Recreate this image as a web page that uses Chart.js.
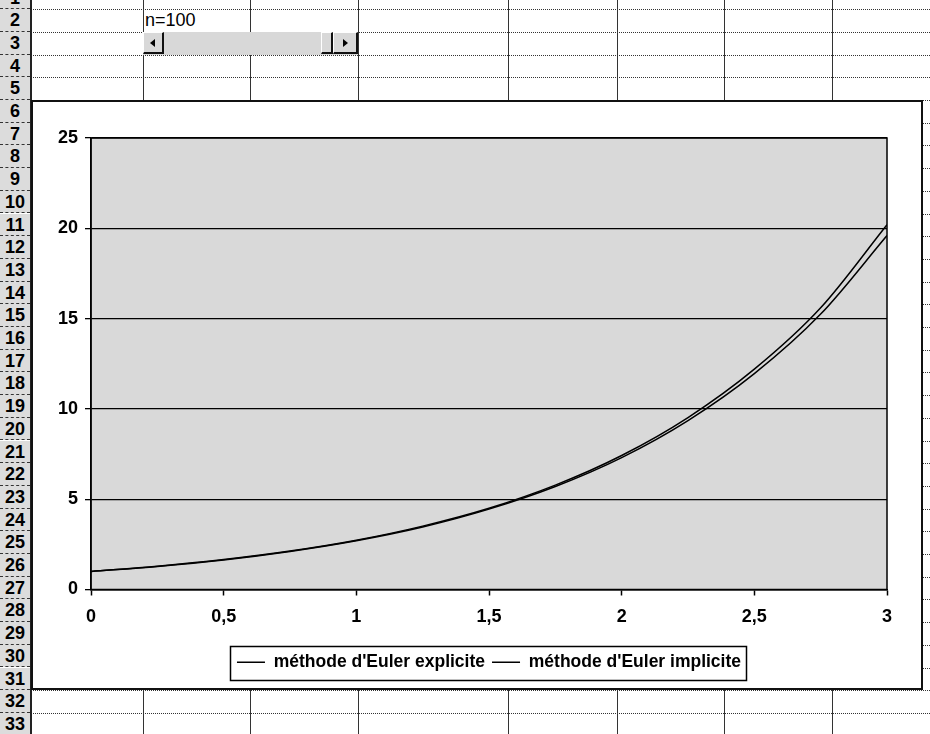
<!DOCTYPE html>
<html lang="fr">
<head>
<meta charset="UTF-8">
<title>Méthode d'Euler</title>
<script src="https://cdn.jsdelivr.net/npm/chart.js@4.4.0/dist/chart.umd.min.js"></script>
<style>
    body {
        margin: 0;
        width: 930px;
        height: 734px;
        overflow: hidden;
        position: relative;
        background: #fff;
        font-family: 'Liberation Sans', Arial, sans-serif;
    }
    .rowhead {
        position: absolute;
        left: 0;
        width: 30px;
        background: #dcdcdc;
        border-bottom: 1px dashed #333;
        box-sizing: border-box;
        text-align: center;
        font: bold 18px 'Liberation Sans Narrow', 'Arial Narrow', 'Liberation Sans', sans-serif;
        color: #000;
    }
    .hline {
        position: absolute;
        left: 31px;
        right: 0;
        border-top: 1px dotted #333;
    }
    .vline {
        position: absolute;
        top: 0;
        height: 734px;
        width: 1px;
        background: #333;
    }
    #headBorder {
        position: absolute;
        left: 30px;
        top: 0;
        width: 2px;
        height: 734px;
        background: #222;
    }
    #nLabel {
        position: absolute;
        left: 145px;
        top: 10px;
        font-size: 18px;
        line-height: 20px;
    }
    .sb {
        position: absolute;
        box-sizing: border-box;
        background: #d8d8d8;
    }
    .btn {
        border-top: 1px solid #fff;
        border-left: 1px solid #fff;
        border-right: 2px solid #111;
        border-bottom: 2px solid #111;
    }
    .arrow {
        position: absolute;
        top: 6px;
        width: 0;
        height: 0;
        border-top: 4px solid transparent;
        border-bottom: 4px solid transparent;
    }
    #chartBox {
        position: absolute;
        left: 31px;
        top: 100px;
        width: 892px;
        height: 590px;
        background: #fff;
        border: 2px solid #111;
        box-sizing: border-box;
    }
    #chart {
        position: absolute;
        left: 32px;
        top: 101px;
    }
</style>
</head>
<body>
<div id="sheet"></div>
<div id="headBorder"></div>
<div id="nLabel">n=100</div>
<div class="sb" style="left:143px; top:32px; width:215px; height:23px;"></div>
<div class="sb btn" style="left:143px; top:32px; width:21px; height:22px;"><div class="arrow" style="left:6px; border-right:5px solid #000;"></div></div>
<div class="sb btn" style="left:321px; top:32px; width:12px; height:22px;"></div>
<div class="sb btn" style="left:333px; top:32px; width:25px; height:22px;"><div class="arrow" style="left:9px; border-left:5px solid #000;"></div></div>
<div id="chartBox"></div>
<canvas id="chart" width="890" height="588"></canvas>

<script>
    // données (n=100)
    const xValues = [0, 0.25, 0.5, 0.75, 1, 1.25, 1.5, 1.75, 2, 2.25, 2.5, 2.75, 3];
    const explicitValues = [1, 1.28, 1.64, 2.11, 2.70, 3.46, 4.45, 5.70, 7.30, 9.35, 11.95, 15.25, 19.6];
    const implicitValues = [1, 1.29, 1.66, 2.13, 2.73, 3.51, 4.50, 5.78, 7.42, 9.52, 12.2, 15.6, 20.2];
    const seriesNames = ["méthode d'Euler explicite", "méthode d'Euler implicite"];
    const xTicks = [0, 0.5, 1, 1.5, 2, 2.5, 3];
    const xTickLabels = ['0', '0,5', '1', '1,5', '2', '2,5', '3'];
    const yTicks = [0, 5, 10, 15, 20, 25];

    // feuille de calcul autour du graphique
    const sheet = document.getElementById('sheet');
    const rowH = 22.7;
    const rowTop = r => 9.2 + (r - 2) * rowH;
    for (let r = 1; r <= 33; r++) {
        const h = document.createElement('div');
        h.className = 'rowhead';
        h.style.top = rowTop(r) + 'px';
        h.style.height = rowH + 'px';
        h.style.lineHeight = rowH + 'px';
        h.textContent = r;
        sheet.appendChild(h);
        const l = document.createElement('div');
        l.className = 'hline';
        l.style.top = rowTop(r) + 'px';
        sheet.appendChild(l);
    }
    [143, 250, 358, 508, 617, 724, 832].forEach(x => {
        const v = document.createElement('div');
        v.className = 'vline';
        v.style.left = x + 'px';
        sheet.appendChild(v);
    });

    const frames = {
        id: 'frames',
        beforeDraw(chart) {
            const {ctx, chartArea: a} = chart;
            ctx.save();
            ctx.fillStyle = '#d9d9d9';
            ctx.fillRect(a.left, a.top, a.width, a.height);
            ctx.restore();
        },
        afterDraw(chart) {
            const {ctx, chartArea: a, legend} = chart;
            ctx.save();
            ctx.strokeStyle = '#000';
            ctx.lineWidth = 1.5;
            ctx.strokeRect(a.left, a.top, a.width, a.height);
            const boxes = legend.legendHitBoxes;
            const l = Math.min(...boxes.map(b => b.left)) - 7;
            const r = Math.max(...boxes.map(b => b.left + b.width)) + 5;
            const t = boxes[0].top - 8;
            ctx.strokeRect(Math.round(l) + 0.5, Math.round(t) + 0.5, Math.round(r - l), 34);
            ctx.restore();
        }
    };

    const tickFont = {family: "'Liberation Sans', Arial, sans-serif", size: 18, weight: 'bold'};

    new Chart(document.getElementById('chart'), {
        type: 'line',
        data: {
            labels: xValues,
            datasets: [
                {
                    label: seriesNames[0],
                    data: xValues.map((x, i) => ({x: x, y: explicitValues[i]})),
                    borderColor: '#000',
                    backgroundColor: '#000',
                    borderWidth: 1.5
                },
                {
                    label: seriesNames[1],
                    data: xValues.map((x, i) => ({x: x, y: implicitValues[i]})),
                    borderColor: '#000',
                    backgroundColor: '#000',
                    borderWidth: 1.5
                }
            ]
        },
        options: {
            responsive: false,
            animation: false,
            devicePixelRatio: 1,
            layout: {padding: {top: 37, right: 35, bottom: 8, left: 0}},
            elements: {
                point: {radius: 0},
                line: {cubicInterpolationMode: 'monotone'}
            },
            scales: {
                x: {
                    type: 'linear',
                    min: 0,
                    max: 3,
                    afterBuildTicks: s => { s.ticks = xTicks.map(v => ({value: v})); },
                    afterFit: s => { s.height = 57; },
                    ticks: {
                        color: '#000',
                        font: tickFont,
                        padding: 11,
                        maxRotation: 0,
                        callback: (v, i) => xTickLabels[i]
                    },
                    grid: {drawOnChartArea: false, drawTicks: true, tickLength: 6, tickColor: '#000', tickWidth: 1.5},
                    border: {display: true, color: '#000', width: 1.5}
                },
                y: {
                    min: 0,
                    max: 25,
                    afterBuildTicks: s => { s.ticks = yTicks.map(v => ({value: v})); },
                    afterFit: s => { s.width = 59; },
                    ticks: {color: '#000', font: tickFont, padding: 7},
                    grid: {color: '#000', lineWidth: 1.3, tickLength: 6, tickColor: '#000'},
                    border: {display: true, color: '#000', width: 1.5}
                }
            },
            plugins: {
                legend: {
                    position: 'bottom',
                    fullSize: false,
                    labels: {
                        color: '#000',
                        font: {family: "'Liberation Sans', Arial, sans-serif", size: 17.5, weight: 'bold'},
                        usePointStyle: true,
                        pointStyle: 'line',
                        pointStyleWidth: 28,
                        padding: 7
                    }
                },
                tooltip: {enabled: false}
            }
        },
        plugins: [frames]
    });
</script>
</body>
</html>
